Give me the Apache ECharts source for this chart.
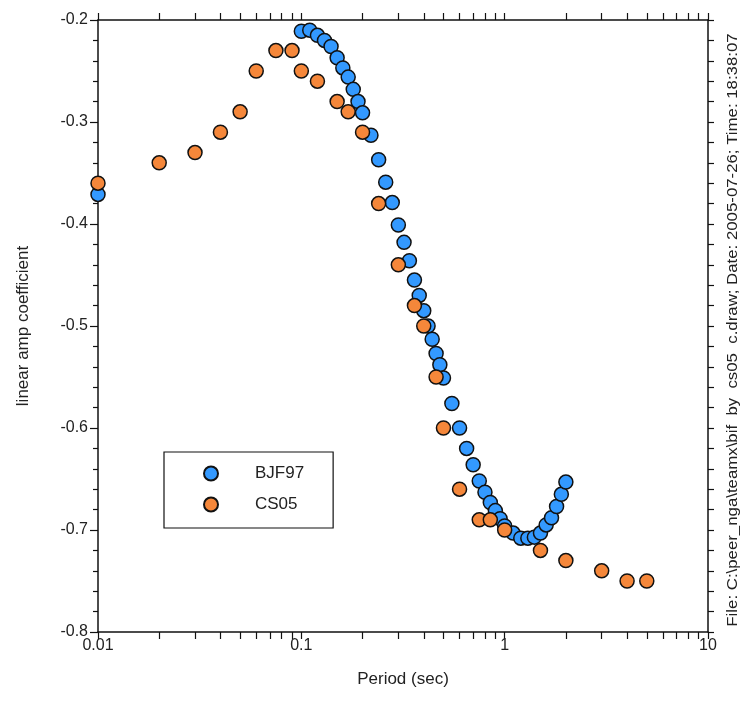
<!DOCTYPE html>
<html>
<head>
<meta charset="utf-8">
<script src="https://cdn.jsdelivr.net/npm/echarts@6/dist/echarts.min.js"></script>
<style>
html,body{margin:0;padding:0;background:#fff;}
#chart{width:740px;height:719px;}
</style>
</head>
<body>
<div id="chart"></div>
<script>
// ---- data ----
var seriesNames = ['BJF97', 'CS05'];

var bjfPeriods = [0.01, 0.1, 0.11, 0.12, 0.13, 0.14, 0.15, 0.16, 0.17, 0.18, 0.19, 0.2,
  0.22, 0.24, 0.26, 0.28, 0.3, 0.32, 0.34, 0.36, 0.38, 0.4, 0.42, 0.44, 0.46, 0.48, 0.5,
  0.55, 0.6, 0.65, 0.7, 0.75, 0.8, 0.85, 0.9, 0.95,
  1.0, 1.1, 1.2, 1.3, 1.4, 1.5, 1.6, 1.7, 1.8, 1.9, 2.0];
var bjfValues = [-0.371, -0.211, -0.210, -0.215, -0.220, -0.226, -0.237, -0.247, -0.256, -0.268, -0.280, -0.291,
  -0.313, -0.337, -0.359, -0.379, -0.401, -0.418, -0.436, -0.455, -0.470, -0.485, -0.500, -0.513, -0.527, -0.538, -0.551,
  -0.576, -0.600, -0.620, -0.636, -0.652, -0.663, -0.673, -0.681, -0.689,
  -0.696, -0.703, -0.708, -0.708, -0.707, -0.703, -0.695, -0.688, -0.677, -0.665, -0.653];

var csPeriods = [0.01, 0.02, 0.03, 0.04, 0.05, 0.06, 0.075, 0.09, 0.1, 0.12, 0.15, 0.17, 0.2,
  0.24, 0.3, 0.36, 0.4, 0.46, 0.5, 0.6, 0.75, 0.85, 1.0, 1.5, 2.0, 3.0, 4.0, 5.0];
var csValues = [-0.36, -0.34, -0.33, -0.31, -0.29, -0.25, -0.23, -0.23, -0.25, -0.26, -0.28, -0.29, -0.31,
  -0.38, -0.44, -0.48, -0.50, -0.55, -0.60, -0.66, -0.69, -0.69, -0.70, -0.72, -0.73, -0.74, -0.75, -0.75];

var xLabelValues = [0.01, 0.1, 1, 10];
var xTickValues = [0.01, 0.02, 0.03, 0.04, 0.05, 0.06, 0.07, 0.08, 0.09,
  0.1, 0.2, 0.3, 0.4, 0.5, 0.6, 0.7, 0.8, 0.9,
  1, 2, 3, 4, 5, 6, 7, 8, 9, 10];
var yMin = -0.8, yMax = -0.2, yInterval = 0.1;

var xTitle = 'Period (sec)';
var yTitle = 'linear amp coefficient';
var sideNote = 'File: C:\\peer_nga\\teamx\\bif  by  cs05  c.draw; Date: 2005-07-26; Time: 18:38:07';

var colors = ['#3399ff', '#f5873a'];

// ---- chart ----
function zip(a, b) { return a.map(function (v, i) { return [v, b[i]]; }); }

var font = 'Liberation Sans, Arial, sans-serif';
var axisLine = { show: true, onZero: false, lineStyle: { color: '#111', width: 1.5 } };

var chart = echarts.init(document.getElementById('chart'), null, { renderer: 'canvas' });
chart.setOption({
  animation: false,
  backgroundColor: '#fff',
  grid: { left: 98, right: 32, top: 20, bottom: 87, containLabel: false },
  xAxis: [{
    type: 'log', logBase: 10, min: 0.01, max: 10, position: 'bottom',
    axisLine: axisLine,
    axisTick: { show: true, inside: false, length: 7, customValues: xTickValues, lineStyle: { color: '#111', width: 1.2 } },
    axisLabel: { show: true, customValues: xLabelValues, color: '#222', fontSize: 16, fontFamily: font, margin: 6,
      formatter: function (v) { return String(v); } },
    splitLine: { show: false },
    name: xTitle, nameLocation: 'middle', nameGap: 39,
    nameTextStyle: { color: '#222', fontSize: 17, fontFamily: font }
  }, {
    type: 'log', logBase: 10, min: 0.01, max: 10, position: 'top',
    axisLine: axisLine,
    axisTick: { show: true, inside: false, length: 7, customValues: xTickValues, lineStyle: { color: '#111', width: 1.2 } },
    axisLabel: { show: false },
    splitLine: { show: false }
  }],
  yAxis: [{
    type: 'value', min: yMin, max: yMax, interval: yInterval, position: 'left',
    axisLine: axisLine,
    axisTick: { show: true, inside: false, length: 8, lineStyle: { color: '#111', width: 1.2 } },
    minorTick: { show: true, splitNumber: 5, length: 5, lineStyle: { color: '#111', width: 1.2 } },
    axisLabel: { show: true, color: '#222', fontSize: 16, fontFamily: font, margin: 10 },
    splitLine: { show: false },
    name: yTitle, nameLocation: 'middle', nameGap: 66, nameRotate: 90,
    nameTextStyle: { color: '#222', fontSize: 17, fontFamily: font }
  }, {
    type: 'value', min: yMin, max: yMax, interval: yInterval, position: 'right',
    axisLine: axisLine,
    axisTick: { show: true, inside: false, length: 6, lineStyle: { color: '#111', width: 1.2 } },
    minorTick: { show: true, splitNumber: 5, length: 6, lineStyle: { color: '#111', width: 1.2 } },
    axisLabel: { show: false },
    splitLine: { show: false }
  }],
  legend: {
    show: true, orient: 'vertical', left: 164, top: 452,
    backgroundColor: '#fff', borderColor: '#111', borderWidth: 1.2,
    padding: [13, 29, 15, 39],
    itemWidth: 14, itemHeight: 14, itemGap: 14,
    icon: 'circle',
    textStyle: { color: '#222', fontSize: 17, fontFamily: font, padding: [0, 0, 0, 32] },
    data: seriesNames
  },
  series: [{
    name: seriesNames[0], type: 'scatter', xAxisIndex: 0, yAxisIndex: 0,
    symbol: 'circle', symbolSize: 14,
    itemStyle: { color: colors[0], borderColor: '#111', borderWidth: 1.5, opacity: 1 },
    data: zip(bjfPeriods, bjfValues)
  }, {
    name: seriesNames[1], type: 'scatter', xAxisIndex: 0, yAxisIndex: 0,
    symbol: 'circle', symbolSize: 14,
    itemStyle: { color: colors[1], borderColor: '#111', borderWidth: 1.5, opacity: 1 },
    data: zip(csPeriods, csValues)
  }],
  graphic: [{
    type: 'text', x: 733, y: 330, rotation: Math.PI / 2, scaleX: 1.2,
    style: { text: sideNote, fill: '#222', font: '14px ' + font, align: 'center', verticalAlign: 'middle' }
  }]
});
</script>
</body>
</html>
